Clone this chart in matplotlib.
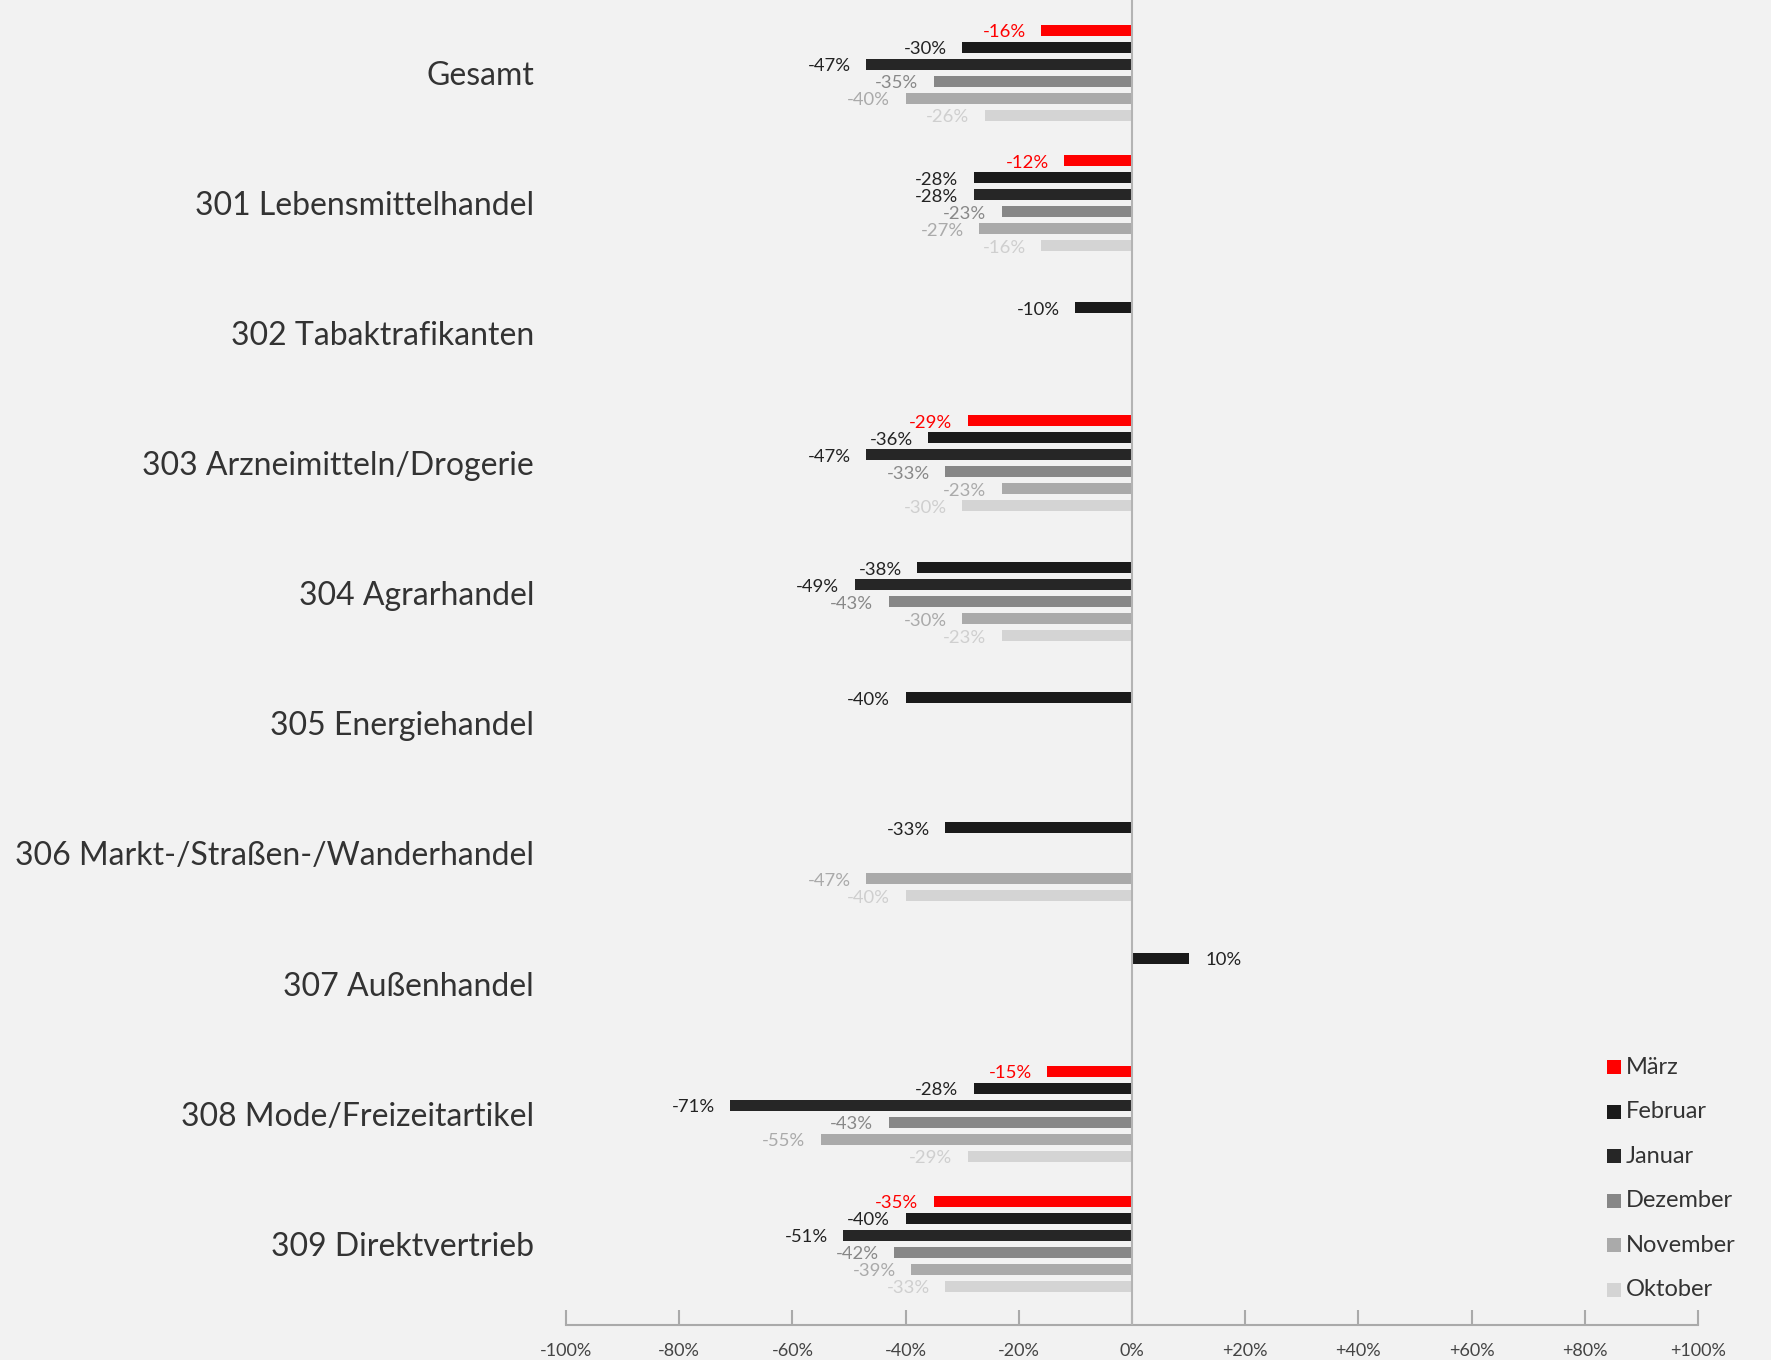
import matplotlib
matplotlib.use("Agg")
import matplotlib.pyplot as plt
from matplotlib.patches import Rectangle
import numpy as np

categories = ["Gesamt", "301 Lebensmittelhandel", "302 Tabaktrafikanten",
              "303 Arzneimitteln/Drogerie", "304 Agrarhandel", "305 Energiehandel",
              "306 Markt-/Straßen-/Wanderhandel", "307 Außenhandel",
              "308 Mode/Freizeitartikel", "309 Direktvertrieb"]
months = ["März", "Februar", "Januar", "Dezember", "November", "Oktober"]

maerz    = [-16, -12, None, -29, None, None, None, None, -15, -35]
februar  = [-30, -28, -10, -36, -38, -40, -33, 10, -28, -40]
januar   = [-47, -28, None, -47, -49, None, None, None, -71, -51]
dezember = [-35, -23, None, -33, -43, None, None, None, -43, -42]
november = [-40, -27, None, -23, -30, None, -47, None, -55, -39]
oktober  = [-26, -16, None, -30, -23, None, -40, None, -29, -33]
series = [maerz, februar, januar, dezember, november, oktober]

bar_colors = ["#ff0000", "#1a1a1a", "#262626", "#878787", "#aaaaaa", "#d4d4d4"]
label_colors = ["#ff0000", "#222222", "#222222", "#888888", "#aaaaaa", "#cfcfcf"]
xticks = [-100, -80, -60, -40, -20, 0, 20, 40, 60, 80, 100]
xticklabels = ["-100%", "-80%", "-60%", "-40%", "-20%", "0%", "+20%", "+40%", "+60%", "+80%", "+100%"]

FONT = "Lato"
plt.rcParams["font.family"] = [FONT, "DejaVu Sans"]

W, H = 1771, 1360
fig = plt.figure(figsize=(W / 100, H / 100), dpi=100)
fig.patch.set_facecolor("#f2f2f2")
ax = fig.add_axes([566 / W, 35 / H, (1698 - 566) / W, 1325 / H])
ax.set_facecolor("#f2f2f2")

slot = 0.1306
bh = 0.0845
y = np.arange(len(categories))
for k, (vals, bc, lc) in enumerate(zip(series, bar_colors, label_colors)):
    off = (k - 2.5) * slot
    for i, v in enumerate(vals):
        if v is None:
            continue
        yy = y[i] + off
        ax.barh(yy, v, height=bh, color=bc, edgecolor="none")
        txt = f"{v:.0f}%"
        if v < 0:
            ax.annotate(txt, (v, yy), xytext=(-11, -1.5), textcoords="offset points",
                        ha="right", va="center", color=lc, fontsize=13.3)
        else:
            ax.annotate(txt, (v, yy), xytext=(12, -1.5), textcoords="offset points",
                        ha="left", va="center", color="#222222", fontsize=13.3)

ax.set_xlim(-100, 100)
ax.set_ylim(9.625, -0.56)
ax.axvline(0, color="#b4b4b4", lw=1.5, zorder=3)

for s in ["top", "right", "left"]:
    ax.spines[s].set_visible(False)
ax.spines["bottom"].set_color("#aaaaaa")
ax.spines["bottom"].set_linewidth(1.5)

ax.set_xticks(xticks)
ax.set_xticklabels(xticklabels)
ax.tick_params(axis="x", direction="in", length=11, width=1.5, color="#aaaaaa",
               pad=13, labelsize=13, labelcolor="#444444")
ax.set_yticks(y)
ax.set_yticklabels(categories)
ax.tick_params(axis="y", length=0, pad=23, labelsize=23, labelcolor="#333333")

# legend
leg_x = 1607
leg_y0 = 1067
leg_dy = 44.6
sq = 14
for k, (m, c) in enumerate(zip(months, bar_colors)):
    cy = leg_y0 + k * leg_dy
    fig.patches.append(Rectangle((leg_x / W, (H - cy - sq / 2) / H), sq / W, sq / H,
                                 transform=fig.transFigure, facecolor=c, edgecolor="none"))
    fig.text((leg_x + 19) / W, (H - cy) / H, m, ha="left", va="center",
             fontsize=17, color="#333333")

fig.savefig("out.png", dpi=100, facecolor=fig.get_facecolor())
